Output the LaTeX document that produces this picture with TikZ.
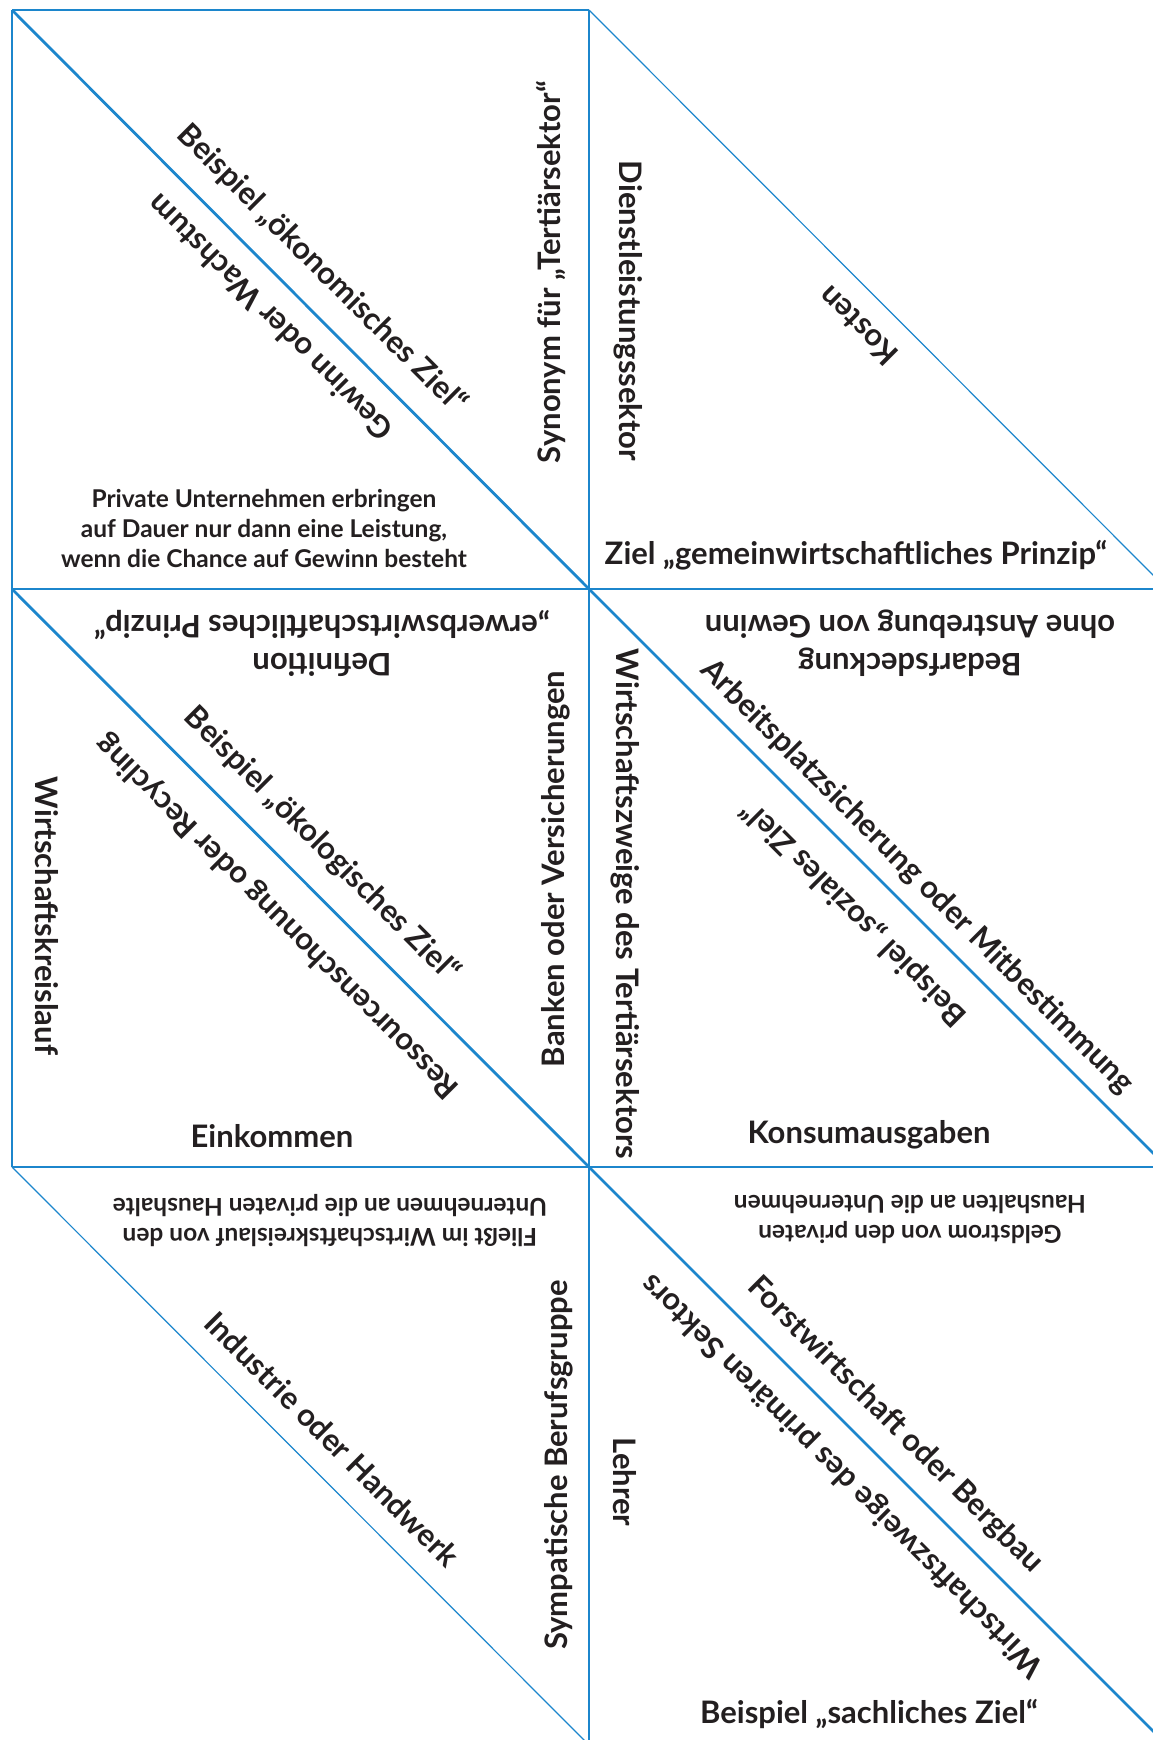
\documentclass[tikz,border=0pt]{standalone}
\usepackage{fontspec}
\setmainfont{Lato}
\definecolor{gridblue}{RGB}{28,134,204}
\definecolor{ink}{RGB}{35,31,32}
\tikzset{
  edgeline/.style={draw=gridblue, line width=1.5pt},
  thickdiag/.style={draw=gridblue, line width=2.8pt},
  thindiag/.style={draw=gridblue, line width=1.2pt},
  lbl/.style={inner sep=0pt, text=ink, align=center, font=\bfseries\fontsize{31}{38}\selectfont},
  smalllbl/.style={inner sep=0pt, text=ink, align=center, font=\bfseries\fontsize{24.5}{30}\selectfont},
}
\begin{document}
\begin{tikzpicture}[x=1pt,y=-1pt]
\useasboundingbox (0,0) rectangle (1153,1740);
\clip (0,0) rectangle (1153,1740);
% grid corners
\coordinate (a0) at (12,10);   \coordinate (b0) at (589,10);   \coordinate (c0) at (1167,10);
\coordinate (a1) at (12,589);  \coordinate (b1) at (589,589);  \coordinate (c1) at (1167,589);
\coordinate (a2) at (12,1167); \coordinate (b2) at (589,1167); \coordinate (c2) at (1167,1167);
\coordinate (a3) at (12,1745); \coordinate (b3) at (589,1745); \coordinate (c3) at (1167,1745);
% edges
\draw[edgeline] (a0) -- (b0);
\draw[edgeline] (a0) -- (a2);
\draw[edgeline] (b0) -- (b3);
\draw[edgeline] (a1) -- (c1);
\draw[edgeline] (a2) -- (c2);
% diagonals
\draw[thickdiag] (a0) -- (b1);
\draw[thindiag]  (b0) -- (c1);
\draw[thickdiag] (a1) -- (b2);
\draw[thickdiag] (b1) -- (c2);
\draw[thindiag]  (a2) -- (b3);
\draw[thickdiag] (b2) -- (c3);

% top-left cell
\node[lbl, rotate=-45] (t1) at (322,269) {Beispiel „ökonomisches Ziel“};
\node[lbl, rotate=135] (t2) at (270,318) {Gewinn oder Wachstum};
\node[lbl, rotate=90] (t3) at (551,272) {Synonym für „Tertiärsektor“};
\node[smalllbl] (t4) at (264,528) {Private Unternehmen erbringen\\auf Dauer nur dann eine Leistung,\\wenn die Chance auf Gewinn besteht};

% top-right cell
\node[lbl, rotate=-90] (t5) at (628,311) {Dienstleistungssektor};
\node[lbl, rotate=135] (t6) at (858,326) {Kosten};
\node[lbl] (t7) at (856,555) {Ziel „gemeinwirtschaftliches Prinzip“};

% middle-left cell
\node[lbl, rotate=180] (t8) at (322,643) {Definition\\„erwerbswirtschaftliches Prinzip“};
\node[lbl, rotate=-45] (t9) at (322,845) {Beispiel „ökologisches Ziel“};
\node[lbl, rotate=135] (t10) at (278,916) {Ressourcenschonung oder Recycling};
\node[lbl, rotate=-90] (t11) at (47,916) {Wirtschaftskreislauf};
\node[lbl, rotate=90] (t12) at (556,869) {Banken oder Versicherungen};
\node[lbl] (t13) at (272,1136) {Einkommen};

% middle-right cell
\node[lbl, rotate=180] (t14) at (910,643) {Bedarfsdeckung\\ohne Anstrebung von Gewinn};
\node[lbl, rotate=-45] (t15) at (917,877) {Arbeitsplatzsicherung oder Mitbestimmung};
\node[lbl, rotate=135] (t16) at (854,913) {Beispiel „soziales Ziel“};
\node[lbl, rotate=-90] (t17) at (625,904) {Wirtschaftszweige des Tertiärsektors};
\node[lbl] (t18) at (869,1135) {Konsumausgaben};

% bottom-left cell
\node[smalllbl, rotate=180] (t19) at (330,1221) {Fließt im Wirtschaftskreislauf von den\\Unternehmen an die privaten Haushalte};
\node[lbl, rotate=-45] (t20) at (332,1439) {Industrie oder Handwerk};
\node[lbl, rotate=90] (t21) at (559,1465) {Sympatische Berufsgruppe};

% bottom-right cell
\node[smalllbl, rotate=180] (t22) at (910,1219) {Geldstrom von den privaten\\Haushalten an die Unternehmen};
\node[lbl, rotate=-45] (t23) at (895,1425) {Forstwirtschaft oder Bergbau};
\node[lbl, rotate=135] (t24) at (843,1475) {Wirtschaftszweige des primären Sektors};
\node[lbl, rotate=-90] (t25) at (625,1482) {Lehrer};
\node[lbl] (t26) at (869,1714) {Beispiel „sachliches Ziel“};
\end{tikzpicture}
\end{document}
